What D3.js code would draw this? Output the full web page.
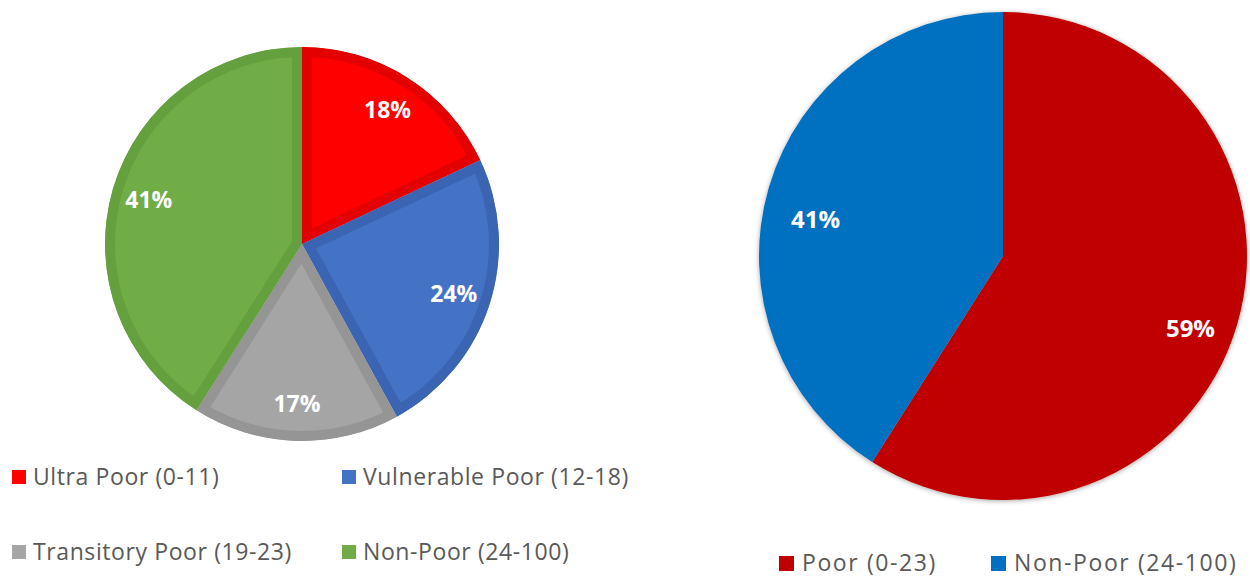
<!DOCTYPE html>
<html>
<head>
<meta charset="utf-8">
<script src="https://cdn.jsdelivr.net/npm/d3@7"></script>
<style>
  body { margin: 0; background: #fff; }
  #container { width: 1250px; height: 578px; }
</style>
</head>
<body>
<div id="container"></div>
<script>
// left chart: four poverty bands
const bandLabels = ["Ultra Poor (0-11)", "Vulnerable Poor (12-18)", "Transitory Poor (19-23)", "Non-Poor (24-100)"];
const bandValues = [18, 24, 17, 41];
const bandFill = ["#ff0000", "#4472c4", "#a5a5a5", "#70ad47"];
const bandEdge = ["#e30000", "#3b65b2", "#959595", "#65a03f"];

// right chart: poor vs non-poor
const groupLabels = ["Poor (0-23)", "Non-Poor (24-100)"];
const groupValues = [59, 41];
const groupFill = ["#c00000", "#0070c0"];

let w = 1250;
let h = 578;

let viz = d3.select("#container")
  .append("svg")
    .attr("width", w)
    .attr("height", h)
    .style("background-color", "#fff");

const defs = viz.append("defs");

// soft shadow for the right pie
const shadow = defs.append("filter")
    .attr("id", "shadow")
    .attr("x", "-10%").attr("y", "-10%")
    .attr("width", "120%").attr("height", "120%");
shadow.append("feDropShadow")
    .attr("dx", 0).attr("dy", 1)
    .attr("stdDeviation", 2.5)
    .attr("flood-color", "#000")
    .attr("flood-opacity", 0.35);

const pie = d3.pie().sort(null).value(d => d);
const pct = d3.format(".0%");

// ---------- left pie ----------
const leftR = 197;
const left = viz.append("g").attr("transform", "translate(302,244)");
const leftArc = d3.arc().innerRadius(0).outerRadius(leftR);
const leftLabelArc = d3.arc().innerRadius(leftR * 0.81).outerRadius(leftR * 0.81);
const leftSlices = pie(bandValues);
const leftTotal = d3.sum(bandValues);

leftSlices.forEach((s, i) => {
  defs.append("clipPath").attr("id", "clipL" + i)
    .append("path").attr("d", leftArc(s));
});

left.selectAll("path.slice")
  .data(leftSlices)
  .enter()
  .append("path")
    .attr("class", "slice")
    .attr("d", leftArc)
    .attr("clip-path", (d, i) => `url(#clipL${i})`)
    .attr("fill", (d, i) => bandFill[i])
    .attr("stroke", (d, i) => bandEdge[i])
    .attr("stroke-width", 20)
    .attr("stroke-linejoin", "miter");

left.selectAll("text")
  .data(leftSlices)
  .enter()
  .append("text")
    .attr("transform", d => `translate(${leftLabelArc.centroid(d)})`)
    .attr("text-anchor", "middle")
    .attr("dy", "0.36em")
    .style("font-family", "'Open Sans', sans-serif")
    .style("font-weight", "bold")
    .style("font-size", "23px")
    .attr("fill", "#fff")
    .text(d => pct(d.value / leftTotal));

// ---------- right pie ----------
const rightR = 244;
const right = viz.append("g").attr("transform", "translate(1003,256)");
const rightArc = d3.arc().innerRadius(0).outerRadius(rightR);
const rightLabelArc = d3.arc().innerRadius(rightR * 0.8).outerRadius(rightR * 0.8);
const rightSlices = pie(groupValues);
const rightTotal = d3.sum(groupValues);

right.append("g")
    .attr("filter", "url(#shadow)")
  .selectAll("path")
  .data(rightSlices)
  .enter()
  .append("path")
    .attr("d", rightArc)
    .attr("fill", (d, i) => groupFill[i]);

right.selectAll("text")
  .data(rightSlices)
  .enter()
  .append("text")
    .attr("transform", d => {
      const c = rightLabelArc.centroid(d);
      return `translate(${c[0]},${c[1] + 18})`;
    })
    .attr("text-anchor", "middle")
    .attr("dy", "0.36em")
    .style("font-family", "'Open Sans', sans-serif")
    .style("font-weight", "bold")
    .style("font-size", "24px")
    .attr("fill", "#fff")
    .text(d => pct(d.value / rightTotal));

// ---------- legends ----------
const legendFont = "'Open Sans', sans-serif";

const leftLegend = viz.append("g").attr("class", "legend");
const leftItems = leftLegend.selectAll("g")
  .data(bandLabels)
  .enter()
  .append("g")
    .attr("transform", (d, i) => `translate(${12 + (i % 2) * 330},${477 + Math.floor(i / 2) * 75})`);

leftItems.append("rect")
    .attr("x", 0).attr("y", -7)
    .attr("width", 14).attr("height", 14)
    .attr("fill", (d, i) => bandFill[i]);

leftItems.append("text")
    .attr("x", 21)
    .attr("dy", "0.35em")
    .style("font-family", legendFont)
    .style("font-size", "23px")
    .style("letter-spacing", "0.6px")
    .attr("fill", "#595959")
    .text(d => d);

const rightLegend = viz.append("g").attr("class", "legend");
const rightItems = rightLegend.selectAll("g")
  .data(groupLabels)
  .enter()
  .append("g")
    .attr("transform", (d, i) => `translate(${779 + i * 212},563)`);

rightItems.append("rect")
    .attr("x", 0).attr("y", -7)
    .attr("width", 15).attr("height", 15)
    .attr("fill", (d, i) => groupFill[i]);

rightItems.append("text")
    .attr("x", 23)
    .attr("dy", "0.33em")
    .style("font-family", legendFont)
    .style("font-size", "23px")
    .style("letter-spacing", "1.6px")
    .attr("fill", "#595959")
    .text(d => d);
</script>
</body>
</html>
